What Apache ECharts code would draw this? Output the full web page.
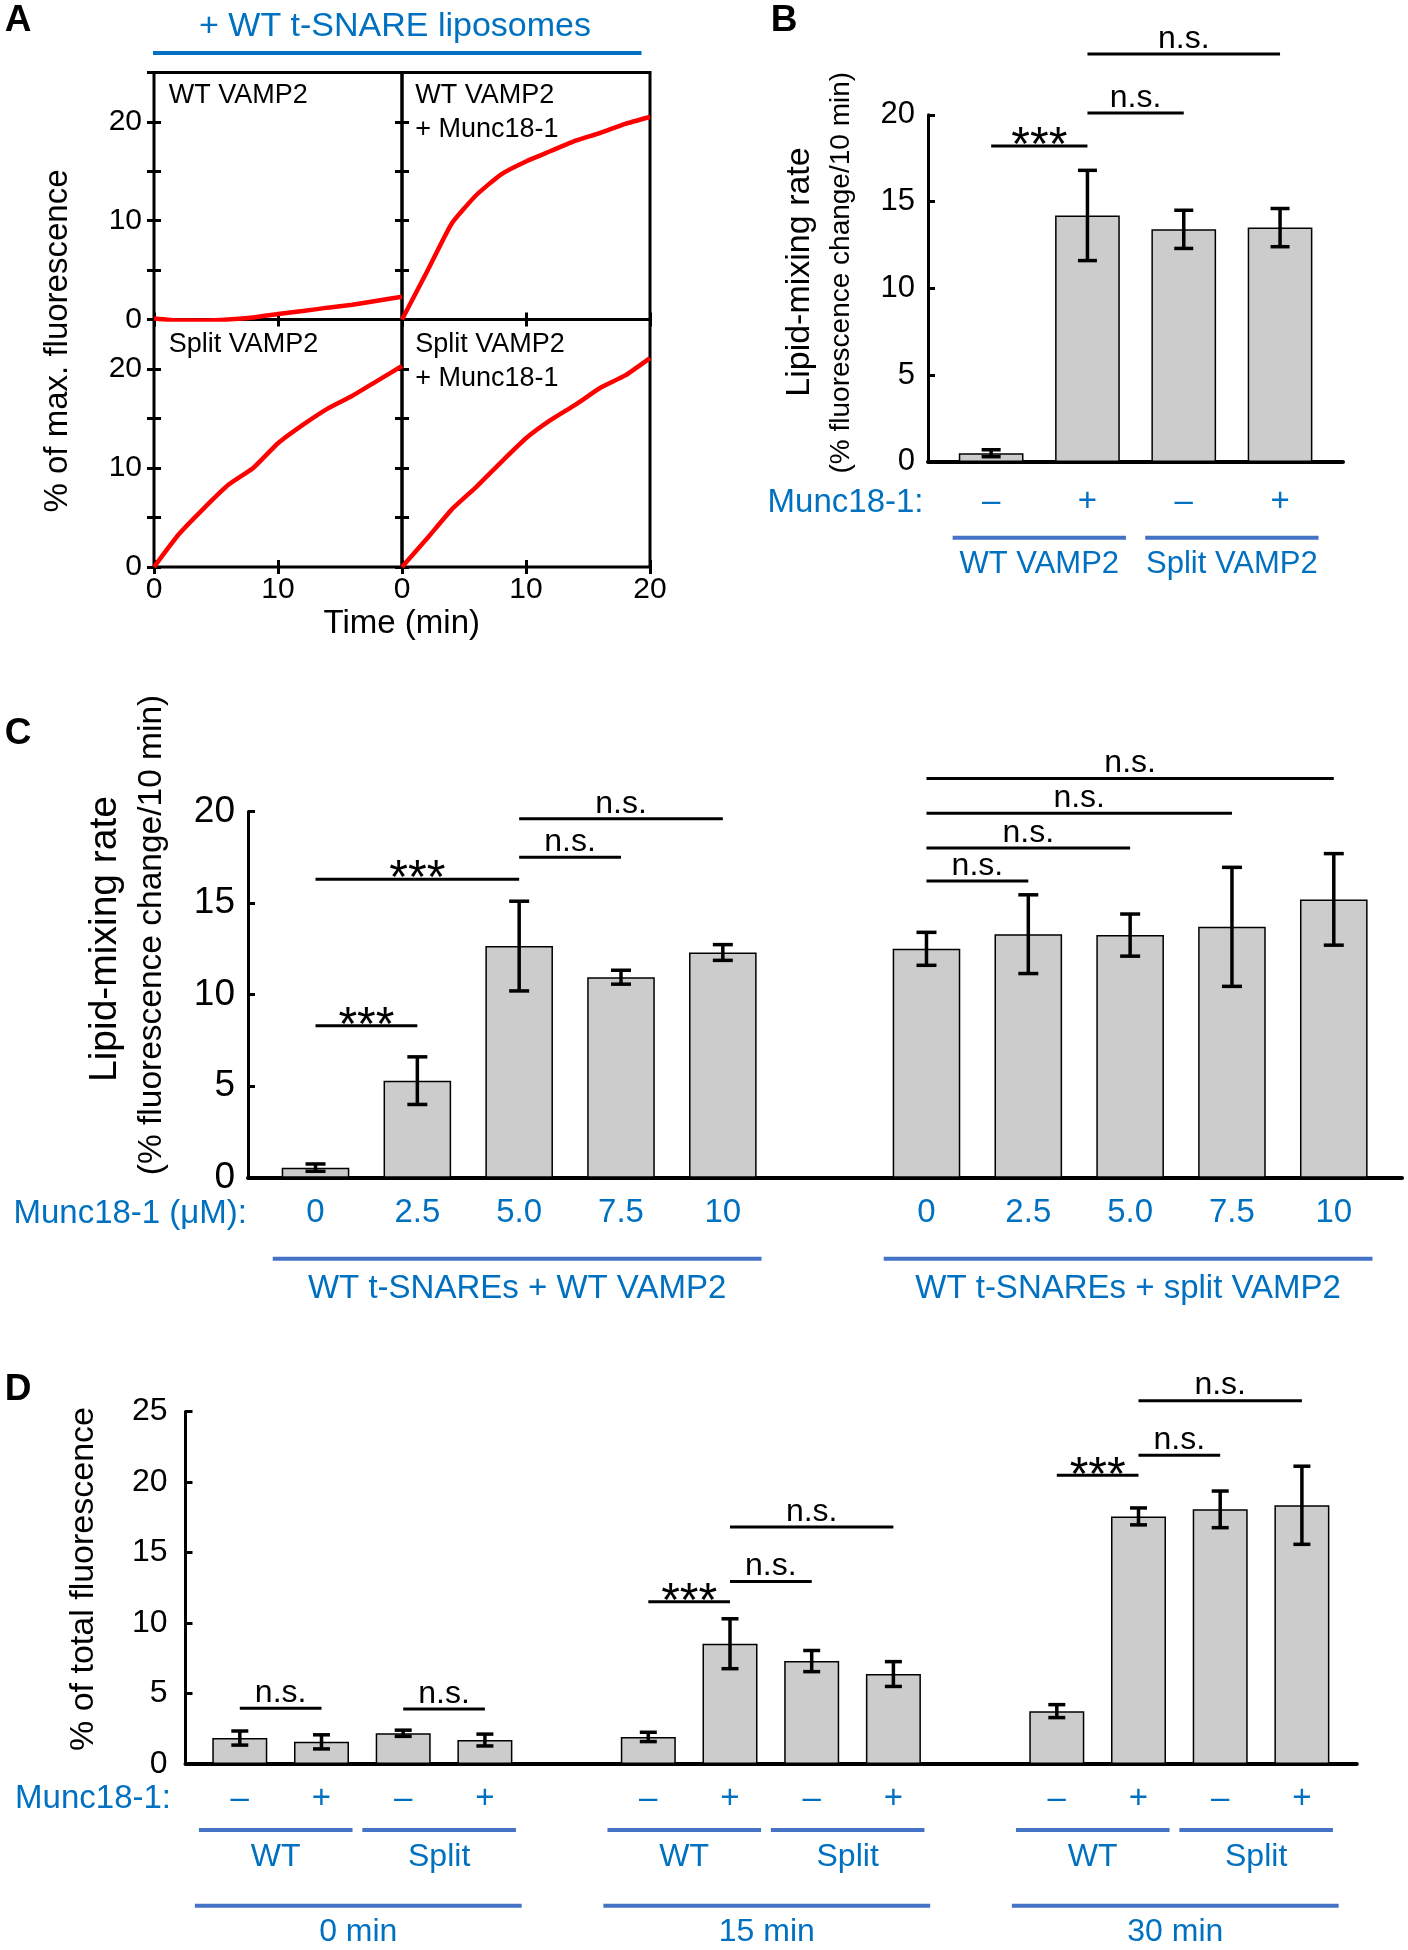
<!DOCTYPE html>
<html><head><meta charset="utf-8">
<script src="https://cdn.jsdelivr.net/npm/echarts@6/dist/echarts.min.js"></script>
<style>html,body{margin:0;padding:0;background:#fff}#c{width:1408px;height:1950px}</style>
</head><body><div id="c"></div>
<script>
// ---------------- DATA ----------------
// Panel A: time courses (% of max. fluorescence)
const timeA = [0, 2, 4, 6, 8, 10, 12, 14, 16, 18, 20];
const wtVamp2 = [0.1, -0.1, -0.1, 0, 0.2, 0.55, 0.85, 1.2, 1.5, 1.9, 2.3];
const wtVamp2Munc = [0, 4.8, 9.7, 12.6, 14.7, 16.0, 17.05, 18.1, 18.9, 19.8, 20.5];
const splitVamp2 = [0, 3.3, 5.9, 8.3, 10.0, 12.5, 14.35, 16.0, 17.3, 18.8, 20.3];
const splitVamp2Munc = [0, 2.85, 5.8, 8.1, 10.6, 13.0, 14.85, 16.4, 18.1, 19.35, 21.1];
const panelALabels = [['WT VAMP2'], ['WT VAMP2', '+ Munc18-1'], ['Split VAMP2'], ['Split VAMP2', '+ Munc18-1']];
const ticksAx = [0, 10, 20];
const ticksAy = [0, 10, 20];

// Panel B
const munc18B = ['–', '+', '–', '+'];
const rateB = [0.5, 14.2, 13.4, 13.5];
const errB = [0.2, 2.6, 1.1, 1.1];
const sigBFrom = [0, 1, 1];
const sigBTo = [1, 2, 3];
const sigBY = [18.2, 20.1, 23.5];
const sigBLabel = ['***', 'n.s.', 'n.s.'];
const groupsB = ['WT VAMP2', 'Split VAMP2'];
const groupsBStart = [0, 2];
const groupsBEnd = [1, 3];

// Panel C
const concC = ['0', '2.5', '5.0', '7.5', '10', '', '0', '2.5', '5.0', '7.5', '10'];
const rateC = [0.55, 5.3, 12.65, 10.95, 12.3, '-', 12.5, 13.3, 13.25, 13.7, 15.2];
const errC = [0.2, 1.3, 2.45, 0.38, 0.43, 0, 0.9, 2.15, 1.15, 3.25, 2.5];
const sigCFrom = [0, 0, 2, 2, 6, 6, 6, 6];
const sigCTo = [1, 2, 3, 4, 7, 8, 9, 10];
const sigCY = [8.3, 16.3, 17.5, 19.6, 16.2, 18.0, 19.9, 21.8];
const sigCLabel = ['***', '***', 'n.s.', 'n.s.', 'n.s.', 'n.s.', 'n.s.', 'n.s.'];
const groupsC = ['WT t-SNAREs + WT VAMP2', 'WT t-SNAREs + split VAMP2'];
const groupsCStart = [0, 6];
const groupsCEnd = [4, 10];

// Panel D
const munc18D = ['–', '+', '–', '+', '', '–', '+', '–', '+', '', '–', '+', '–', '+'];
const fracD = [1.84, 1.57, 2.18, 1.7, '-', 1.92, 8.53, 7.3, 6.38, '-', 3.75, 17.56, 18.06, 18.35];
const errD = [0.5, 0.5, 0.22, 0.42, 0, 0.33, 1.77, 0.75, 0.88, 0, 0.46, 0.6, 1.3, 2.77];
const sigDFrom = [0, 2, 5, 6, 6, 10, 11, 11];
const sigDTo = [1, 3, 6, 7, 8, 11, 12, 13];
const sigDY = [3.95, 3.9, 11.5, 12.94, 16.8, 20.47, 21.9, 25.77];
const sigDLabel = ['n.s.', 'n.s.', '***', 'n.s.', 'n.s.', '***', 'n.s.', 'n.s.'];
const subGroupsD = ['WT', 'Split', 'WT', 'Split', 'WT', 'Split'];
const subGroupsDStart = [0, 2, 5, 7, 10, 12];
const subGroupsDEnd = [1, 3, 6, 8, 11, 13];
const timeGroupsD = ['0 min', '15 min', '30 min'];
const timeGroupsDStart = [0, 5, 10];
const timeGroupsDEnd = [3, 8, 13];

// ---------------- STYLE ----------------
const FONT = '"Liberation Sans", Arial, Helvetica, sans-serif';
const BLUE_TXT = '#0070C0';
const BLUE_LINE = '#4472C4';
const chart = echarts.init(document.getElementById('c'), null, {renderer: 'canvas'});

const grids = [];
const xAxes = [];
const yAxes = [];
const series = [];

// ---- Panel A: 2x2 grids ----
const aX = [154, 402, 650];
const aY = [72.5, 319.5, 567];
const aSeries = [wtVamp2, wtVamp2Munc, splitVamp2, splitVamp2Munc];
for (let i = 0; i < 4; i++) {
  const col = i % 2, row = Math.floor(i / 2);
  grids.push({left: aX[col], top: aY[row], width: aX[col + 1] - aX[col], height: aY[row + 1] - aY[row],
    show: true, borderColor: '#000', borderWidth: 3, backgroundColor: 'transparent', containLabel: false});
  const tickStyle = {show: true, inside: true, length: 7, lineStyle: {color: '#000', width: 3}};
  xAxes.push({type: 'value', gridIndex: i, position: 'bottom', min: 0, max: 20, interval: 10,
    axisLine: {show: false}, axisTick: tickStyle, splitLine: {show: false},
    axisLabel: {show: row === 1, fontSize: 30, fontFamily: FONT, color: '#000', margin: 8,
      formatter: v => (col === 0 && v === 20) ? '' : (ticksAx.indexOf(v) >= 0 ? String(v) : '')}});
  xAxes.push({type: 'value', gridIndex: i, position: 'top', min: 0, max: 20, interval: 10,
    axisLine: {show: false}, axisTick: tickStyle, splitLine: {show: false}, axisLabel: {show: false}});
  yAxes.push({type: 'value', gridIndex: i, position: 'left', min: 0, max: 25, interval: 5,
    axisLine: {show: false}, axisTick: tickStyle, splitLine: {show: false},
    axisLabel: {show: col === 0, fontSize: 30, fontFamily: FONT, color: '#000', margin: 12,
      formatter: v => ticksAy.indexOf(v) >= 0 ? String(v) : ''}});
  yAxes.push({type: 'value', gridIndex: i, position: 'right', min: 0, max: 25, interval: 5,
    axisLine: {show: false}, axisTick: tickStyle, splitLine: {show: false}, axisLabel: {show: false}});
  series.push({type: 'line', xAxisIndex: 2 * i, yAxisIndex: 2 * i, symbol: 'none', showSymbol: false,
    smooth: 0.15, lineStyle: {color: '#FF0000', width: 4.5}, z: 5,
    data: timeA.map((t, k) => [t, aSeries[i][k]])});
}

// ---- helpers for bar panels ----
function errorRenderer(cap) {
  return function (params, api) {
    const x = api.value(0);
    const lo = api.coord([x, api.value(1)]);
    const hi = api.coord([x, api.value(2)]);
    const st = {stroke: '#000', lineWidth: 3.5};
    return {type: 'group', children: [
      {type: 'line', shape: {x1: lo[0], y1: lo[1], x2: hi[0], y2: hi[1]}, style: st},
      {type: 'line', shape: {x1: lo[0] - cap / 2, y1: lo[1], x2: lo[0] + cap / 2, y2: lo[1]}, style: st},
      {type: 'line', shape: {x1: hi[0] - cap / 2, y1: hi[1], x2: hi[0] + cap / 2, y2: hi[1]}, style: st}
    ]};
  };
}
function sigRenderer(labels) {
  return function (params, api) {
    const p1 = api.coord([api.value(0), api.value(2)]);
    const p2 = api.coord([api.value(1), api.value(2)]);
    const lab = labels[params.dataIndex];
    const star = lab.indexOf('*') >= 0;
    return {type: 'group', children: [
      {type: 'line', shape: {x1: p1[0], y1: p1[1], x2: p2[0], y2: p2[1]}, style: {stroke: '#000', lineWidth: 3}},
      {type: 'text', x: (p1[0] + p2[0]) / 2, y: star ? p1[1] + 1 : p1[1] - 15,
        style: {text: lab, fill: '#000', font: (star ? '48px ' : '32px ') + FONT, align: 'center', verticalAlign: 'middle'}}
    ]};
  };
}
function barPanel(cfg) {
  const gMain = grids.length, gHelp = gMain + 1;
  grids.push({left: cfg.mainLeft, top: cfg.top, width: cfg.mainWidth, height: cfg.height});
  grids.push({left: cfg.axisLeft, top: cfg.top, width: cfg.axisRight - cfg.axisLeft, height: cfg.height});
  const xMain = xAxes.length;
  xAxes.push({type: 'category', gridIndex: gMain, data: cfg.categories, boundaryGap: true,
    axisLine: {show: false}, axisTick: {show: false}, splitLine: {show: false},
    axisLabel: {interval: 0, fontSize: 33, fontFamily: FONT, color: BLUE_TXT, margin: cfg.labelMargin}});
  xAxes.push({type: 'value', gridIndex: gHelp, min: 0, max: 1,
    axisLine: {show: true, onZero: false, lineStyle: {color: '#000', width: 4}}, axisTick: {show: false},
    axisLabel: {show: false}, splitLine: {show: false}});
  const yMain = yAxes.length;
  yAxes.push({type: 'value', gridIndex: gMain, min: 0, max: cfg.yMax, show: false, splitLine: {show: false}});
  yAxes.push({type: 'value', gridIndex: gHelp, min: 0, max: cfg.yMax, interval: 5,
    axisLine: {show: true, onZero: false, lineStyle: {color: '#000', width: 3}},
    axisTick: {show: true, inside: true, length: 7, lineStyle: {color: '#000', width: 3}},
    splitLine: {show: false},
    axisLabel: {fontSize: cfg.tickFont, fontFamily: FONT, color: '#000', margin: cfg.yLabelMargin}});
  series.push({type: 'bar', xAxisIndex: xMain, yAxisIndex: yMain, data: cfg.values, barWidth: cfg.barWidth,
    itemStyle: {color: '#CCCCCC', borderColor: '#000', borderWidth: 1.5}, z: 2});
  const errData = [];
  cfg.values.forEach((v, i) => { if (typeof v === 'number') errData.push([i, v - cfg.errs[i], v + cfg.errs[i]]); });
  series.push({type: 'custom', xAxisIndex: xMain, yAxisIndex: yMain, renderItem: errorRenderer(cfg.cap),
    data: errData, encode: {x: 0, y: [1, 2]}, clip: false, z: 4});
  series.push({type: 'custom', xAxisIndex: xMain, yAxisIndex: yMain, renderItem: sigRenderer(cfg.sigLabels),
    data: cfg.sigFrom.map((f, k) => [f, cfg.sigTo[k], cfg.sigY[k]]), encode: {x: [0, 1], y: 2}, clip: false, z: 4});
  return xMain;
}

const xB = barPanel({mainLeft: 943, mainWidth: 385.2, top: 114.8, height: 347.1, axisLeft: 928, axisRight: 1343,
  categories: munc18B, values: rateB, errs: errB, yMax: 20, barWidth: 64.7, cap: 19, tickFont: 31,
  yLabelMargin: 13, labelMargin: 24, sigFrom: sigBFrom, sigTo: sigBTo, sigY: sigBY, sigLabels: sigBLabel});
const xC = barPanel({mainLeft: 264.6, mainWidth: 1120.1, top: 811.5, height: 366.2, axisLeft: 248, axisRight: 1402,
  categories: concC, values: rateC, errs: errC, yMax: 20, barWidth: 67.6, cap: 20, tickFont: 37,
  yLabelMargin: 13, labelMargin: 19, sigFrom: sigCFrom, sigTo: sigCTo, sigY: sigCY, sigLabels: sigCLabel});
const xD = barPanel({mainLeft: 198.95, mainWidth: 1143.8, top: 1411.5, height: 352.5, axisLeft: 185.5, axisRight: 1356.8,
  categories: munc18D, values: fracD, errs: errD, yMax: 25, barWidth: 55, cap: 17, tickFont: 32,
  yLabelMargin: 18, labelMargin: 18, sigFrom: sigDFrom, sigTo: sigDTo, sigY: sigDY, sigLabels: sigDLabel});

chart.setOption({animation: false, backgroundColor: '#fff', grid: grids, xAxis: xAxes, yAxis: yAxes, series: series});

// ---------------- annotations ----------------
const g = [];
function text(x, y, t, size, opt) {
  opt = opt || {};
  g.push({type: 'text', x: x, y: y, rotation: opt.rot || 0, z: 10,
    style: {text: t, fill: opt.color || '#000', font: (opt.bold ? 'bold ' : '') + size + 'px ' + FONT,
      align: opt.align || 'center', verticalAlign: 'middle'}});
}
function hline(x1, x2, y, color, w) {
  g.push({type: 'line', z: 10, shape: {x1: x1, y1: y, x2: x2, y2: y}, style: {stroke: color, lineWidth: w}});
}
// panel letters
text(18, 21, 'A', 37, {bold: true});
text(784, 21, 'B', 37, {bold: true});
text(18, 734, 'C', 37, {bold: true});
text(18, 1390, 'D', 37, {bold: true});

// Panel A annotations
text(395, 27, '+ WT t-SNARE liposomes', 34, {color: BLUE_TXT});
hline(153, 641.5, 53, BLUE_TXT, 4);
const labX = [168.7, 415.2];
const labY = [95.4, 345];
panelALabels.forEach((lines, i) => {
  lines.forEach((ln, k) => text(labX[i % 2], labY[Math.floor(i / 2)] + k * 34, ln, 27, {align: 'left'}));
});
text(58, 341, '% of max. fluorescence', 33, {rot: Math.PI / 2});
text(401.8, 624, 'Time (min)', 33);

// Panel B
text(800, 272, 'Lipid-mixing rate', 34, {rot: Math.PI / 2});
text(841.7, 272.7, '(% fluorescence change/10 min)', 28, {rot: Math.PI / 2});
text(923.5, 503.3, 'Munc18-1:', 33, {color: BLUE_TXT, align: 'right'});
// Panel C
text(105, 939, 'Lipid-mixing rate', 39, {rot: Math.PI / 2});
text(152, 935, '(% fluorescence change/10 min)', 33.5, {rot: Math.PI / 2});
text(247, 1214, 'Munc18-1 (μM):', 33, {color: BLUE_TXT, align: 'right'});
// Panel D
text(83.3, 1579, '% of total fluorescence', 34, {rot: Math.PI / 2});
text(171, 1799, 'Munc18-1:', 33, {color: BLUE_TXT, align: 'right'});

function groupLines(xAxisIndex, names, starts, ends, padL, padR, lineY, labelY, size) {
  const c0 = chart.convertToPixel({xAxisIndex: xAxisIndex}, 0);
  const c1 = chart.convertToPixel({xAxisIndex: xAxisIndex}, 1);
  const slot = c1 - c0;
  names.forEach((nm, k) => {
    const a = chart.convertToPixel({xAxisIndex: xAxisIndex}, starts[k]) - padL * slot;
    const b = chart.convertToPixel({xAxisIndex: xAxisIndex}, ends[k]) + padR * slot;
    hline(a, b, lineY, BLUE_LINE, 4);
    text((a + b) / 2, labelY, nm, size, {color: BLUE_TXT});
  });
}
groupLines(xB, groupsB, groupsBStart, groupsBEnd, 0.4, 0.4, 537.7, 564.5, 31);
groupLines(xC, groupsC, groupsCStart, groupsCEnd, 0.42, 0.38, 1258.7, 1289, 33);
groupLines(xD, subGroupsD, subGroupsDStart, subGroupsDEnd, 0.5, 0.38, 1829.9, 1857.6, 32);
groupLines(xD, timeGroupsD, timeGroupsDStart, timeGroupsDEnd, 0.55, 0.45, 1905.7, 1932.3, 32);

chart.setOption({graphic: {elements: g}});
</script>
</body></html>
